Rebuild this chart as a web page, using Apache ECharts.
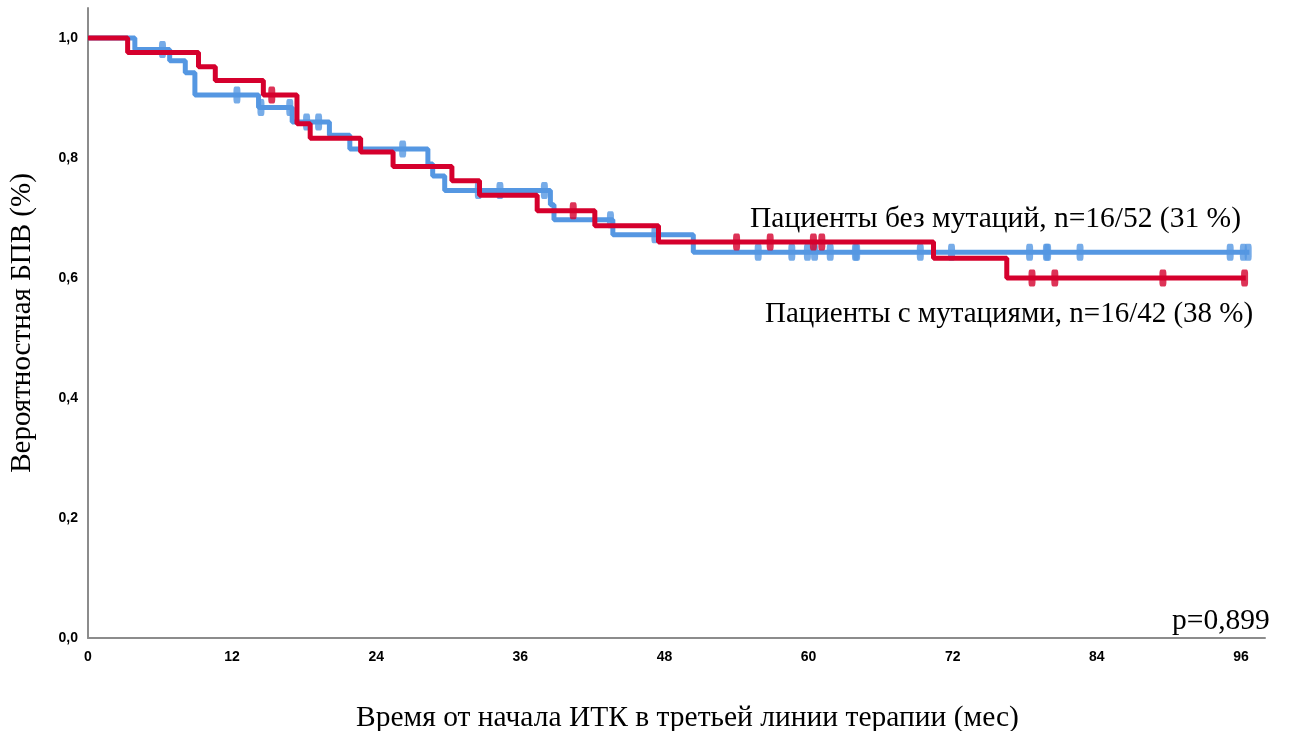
<!DOCTYPE html>
<html>
<head>
<meta charset="utf-8">
<script src="https://cdn.jsdelivr.net/npm/echarts@6/dist/echarts.min.js"></script>
<style>
html,body{margin:0;padding:0;background:#fff;}
#chart{width:1300px;height:731px;}
</style>
</head>
<body>
<div id="chart"></div>
<script>
// Kaplan-Meier step data (months, survival probability after the step)
var redTimes  = [0, 3.3, 9.2, 10.6, 14.6, 17.4, 18.5, 22.7, 25.4, 30.3, 32.6, 37.4, 42.2, 47.5, 70.4, 76.5, 96.4];
var redSurv   = [1.0, 0.976, 0.952, 0.929, 0.905, 0.857, 0.833, 0.810, 0.786, 0.762, 0.738, 0.712, 0.687, 0.660, 0.633, 0.600, 0.600];
var blueTimes = [0, 3.9, 6.8, 8.1, 8.9, 14.2, 17.0, 20.1, 21.8, 28.3, 28.7, 29.7, 38.5, 38.8, 43.7, 50.4, 96.7];
var blueSurv  = [1.0, 0.981, 0.962, 0.942, 0.905, 0.884, 0.860, 0.838, 0.815, 0.790, 0.770, 0.746, 0.722, 0.697, 0.672, 0.643, 0.643];
// censoring times
var redCensor  = [15.3, 40.4, 54.0, 56.8, 60.4, 61.1, 78.6, 80.5, 89.5, 96.3];
var blueCensor = [6.2, 12.4, 14.4, 16.8, 18.2, 19.2, 26.2, 32.5, 34.3, 38.0, 43.5, 47.2, 55.8, 58.6, 59.9, 60.5, 61.8, 63.9, 64.0, 69.3, 71.9, 78.4, 79.8, 79.9, 82.6, 95.1, 96.2, 96.6];
var xTicks = [0, 12, 24, 36, 48, 60, 72, 84, 96];
var yTicks = [0, 0.2, 0.4, 0.6, 0.8, 1.0];
var labelNoMut = 'Пациенты без мутаций, n=16/52 (31 %)';
var labelMut = 'Пациенты с мутациями, n=16/42 (38 %)';
var pLabel = 'p=0,899';
var xName = 'Время от начала ИТК в третьей линии терапии (мес)';
var yName = 'Вероятностная БПВ (%)';

function pairs(t, s){ return t.map(function(v,i){ return [v, s[i]]; }); }
function survAt(t, s, x){ var v = s[0]; for (var i=0;i<t.length;i++){ if (t[i] <= x) v = s[i]; } return v; }
function censorPts(c, t, s){ return c.map(function(x){ return [x, survAt(t, s, x)]; }); }

var RED = '#d5002d', BLUE = '#5597e2';
var chart = echarts.init(document.getElementById('chart'));
chart.setOption({
  animation: false,
  grid: {left: 88, right: 35, top: 8, bottom: 93, containLabel: false, outerBoundsMode: 'none'},
  xAxis: {
    type: 'value', min: 0, max: 98, interval: 12,
    axisLine: {lineStyle: {color: '#8c8c8c', width: 2}},
    axisTick: {show: false}, splitLine: {show: false},
    axisLabel: {showMaxLabel: false, color: '#000', fontFamily: 'Liberation Sans', fontWeight: 'bold', fontSize: 14, margin: 12,
      formatter: function(v){ return xTicks.indexOf(v) >= 0 ? String(v) : ''; }},
    name: xName, nameLocation: 'middle', nameGap: 65,
    nameTextStyle: {fontFamily: 'Liberation Serif', fontSize: 29.5, color: '#000', padding: [0, 0, 0, 22]}
  },
  yAxis: {
    type: 'value', min: 0, max: 1.05, interval: 0.2,
    axisLine: {show: true, lineStyle: {color: '#8c8c8c', width: 2}},
    axisTick: {show: false}, splitLine: {show: false},
    axisLabel: {showMaxLabel: false, color: '#000', fontFamily: 'Liberation Sans', fontWeight: 'bold', fontSize: 14, margin: 10,
      formatter: function(v){ var r = Math.round(v*10)/10; return yTicks.indexOf(r) >= 0 && Math.abs(r - v) < 1e-6 ? r.toFixed(1).replace('.', ',') : ''; }},
    name: yName, nameLocation: 'middle', nameGap: 51, nameRotate: 90,
    nameTextStyle: {fontFamily: 'Liberation Serif', fontSize: 29, color: '#000'}
  },
  series: [
    {type: 'line', step: 'end', data: pairs(blueTimes, blueSurv), symbol: 'none', z: 2,
     lineStyle: {color: BLUE, width: 5}},
    {type: 'line', step: 'end', data: pairs(redTimes, redSurv), symbol: 'none', z: 3,
     lineStyle: {color: RED, width: 5}},
    {type: 'scatter', data: censorPts(blueCensor, blueTimes, blueSurv), symbol: 'roundRect', symbolSize: [7, 17], z: 2,
     itemStyle: {color: BLUE}},
    {type: 'scatter', data: censorPts(redCensor, redTimes, redSurv), symbol: 'roundRect', symbolSize: [7, 17], z: 4,
     itemStyle: {color: RED}}
  ],
  graphic: [
    {type: 'text', left: 750, top: 204, style: {text: labelNoMut, font: '29.5px "Liberation Serif"', fill: '#000'}},
    {type: 'text', left: 765, top: 300, style: {text: labelMut, font: '29px "Liberation Serif"', fill: '#000'}},
    {type: 'text', left: 1172, top: 606, style: {text: pLabel, font: '29.5px "Liberation Serif"', fill: '#000'}}
  ]
});
</script>
</body>
</html>
